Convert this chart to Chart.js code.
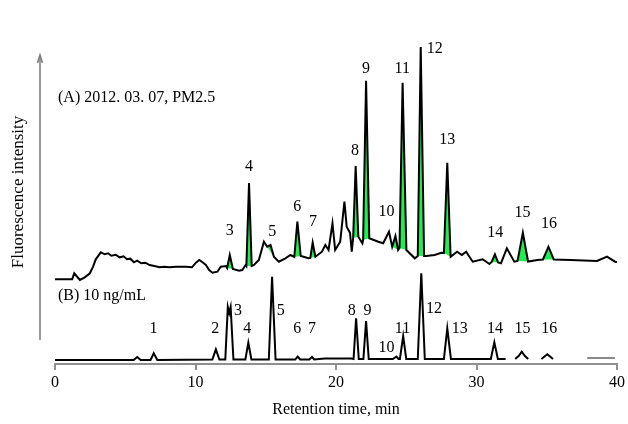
<!DOCTYPE html>
<html>
<head>
<meta charset="utf-8">
<script src="https://cdn.jsdelivr.net/npm/chart.js@4.4.0/dist/chart.umd.min.js"></script>
<style>
  html, body { margin: 0; padding: 0; background: #fff; }
  #wrap { width: 628px; height: 424px; }
</style>
</head>
<body>
<div id="wrap"><canvas id="chart" width="628" height="424"></canvas></div>
<script>
// Trace A: PM2.5 sample (retention time in min, intensity in plot units incl. offset)
const timeA = [
  0, 1.22, 1.37, 1.77, 2.12, 2.48, 2.71, 2.9, 3.26, 3.54, 3.78, 4.01, 4.32, 4.6, 4.88, 5.12,
  5.36, 5.62, 5.85, 6.14, 6.44, 6.73, 7.08, 7.43, 7.79, 8.14, 8.61, 9.32, 9.75, 10.03, 10.27,
  10.5, 10.74, 10.97, 11.21, 11.56, 11.8, 12.16, 12.25, 12.44, 12.66, 13.1, 13.33, 13.57, 13.62,
  13.81, 14.0, 14.16, 14.51, 14.87, 15.1, 15.34, 15.58, 15.93, 16.4, 16.76, 17.03, 17.25, 17.49,
  18.05, 18.17, 18.34, 18.53, 19.0, 19.24, 19.47, 19.75, 19.94, 20.3, 20.6, 20.76, 21.0, 21.12,
  21.22, 21.4, 21.59, 21.88, 21.93, 22.14, 22.37, 23.01, 23.36, 23.77, 24.0, 24.23, 24.42, 24.52,
  24.74, 25.01, 25.61, 25.82, 26.03, 26.27, 26.43, 27.02, 27.49, 27.68, 27.92, 28.16, 28.62, 28.96,
  29.26, 29.73, 30.44, 30.92, 31.08, 31.31, 31.54, 31.74, 32.16, 32.69, 32.92, 33.3, 33.67, 34.34,
  34.73, 35.12, 35.5, 36.69, 38.58, 39.29, 39.86, 40
];
const signalA = [
  84.7, 84.7, 90.7, 84, 86.7, 90.7, 97.3, 104.7, 111.7, 109.7, 110.7, 108.3, 109.3, 106.7, 107.7, 104.7,
  105.3, 101.7, 103.3, 100.7, 101.3, 99, 98, 96.7, 97.3, 96.7, 97.3, 97.3, 96.7, 101.3, 104,
  101.7, 99, 94, 91.3, 92.3, 97.3, 98, 96, 109, 95, 93.3, 94, 99, 98,
  181, 98, 99, 104, 122.3, 117.3, 119, 107.3, 102.3, 105.7, 109, 107, 142.3, 108,
  105.7, 106, 121.3, 107.3, 112.3, 119, 114, 140.7, 114, 122.3, 162.3, 137.3, 131, 112.3,
  126, 198, 127.3, 120.7, 124, 283.3, 125.7, 122.3, 120.7, 132.3, 117.3, 128, 114, 116,
  281.3, 114, 105.7, 108, 317, 108, 108, 109, 111.3, 111, 201.3, 107.3, 112.3, 109,
  112.3, 102.3, 104.7, 100, 102, 109.7, 101.5, 100.7, 115.7, 102.3, 103, 131.3, 102.5, 104,
  104.5, 117.3, 104.5, 104, 103, 107.3, 102.3, 102
];

// Trace B: 10 ng/mL standard (null = break in the trace)
const timeB = [
  0, 5.6, 5.85, 6.1, 6.8, 7.03, 7.28, 11.2, 11.45, 11.7, 12.12, 12.3, 12.4, 12.5, 12.7,
  13.55, 13.76, 13.98, 15.22, 15.45, 15.7, 17.1, 17.27, 17.45, 18.1, 18.29, 18.45, 19.2, 21.1,
  21.25, 21.43, 21.62, 21.95, 22.14, 22.33, 24.05, 24.3, 24.45, 24.55, 24.78, 25.0, 25.82, 26.07,
  26.32, 27.68, 27.92, 28.18, 31.02, 31.27, 31.52, 32.07, 32.4, 32.75, 33.0, 33.22, 33.45, 33.68,
  34.2, 34.62, 35.04, 35.45, 36.5, 37.88, 39.86
];
const signalB = [
  4, 4, 7, 4, 4, 10.7, 4, 4.5, 14.7, 4.5, 4.5, 57, 51, 57, 4.5,
  4.5, 21.3, 4.5, 4.5, 87.3, 4.5, 4.5, 7.5, 4.5, 4.5, 7, 4.5, 5.5, 5.5,
  5, 45.7, 5, 5, 43, 5, 5, 7.5, 5, 5, 28, 5, 5, 90.7,
  5, 5, 35.7, 5, 5, 21.7, 5, 5, null, 5, 8, 12.3, 8, 5,
  null, 5, 9.7, 5, null, 6, 6
];

// Integrated (green) peak windows in trace A, start/end retention times
const greenWindows = [
  [12.25, 12.66], [13.62, 14.0], [15.1, 15.58], [17.03, 17.49], [18.17, 18.53],
  [21.22, 21.59], [21.93, 22.37], [24.0, 24.42], [24.52, 25.01], [25.82, 26.27],
  [27.68, 28.16], [31.08, 31.54], [32.92, 33.67], [34.73, 35.5]
];

const xTicks = [0, 10, 20, 30, 40];

// peak number annotations: [label, time, height]
const peakLabelsA = [
  ['3', 12.44, 133], ['4', 13.81, 197], ['5', 15.46, 132], ['6', 17.25, 157],
  ['7', 18.36, 142], ['8', 21.36, 213], ['9', 22.14, 295], ['10', 23.6, 152],
  ['11', 24.71, 295], ['12', 27.02, 315], ['13', 27.92, 224], ['14', 31.34, 131],
  ['15', 33.27, 151], ['16', 35.16, 140]
];
const peakLabelsB = [
  ['1', 7.01, 35], ['2', 11.4, 35], ['3', 13.03, 53], ['4', 13.69, 35],
  ['5', 16.07, 53], ['6', 17.25, 35], ['7', 18.29, 35], ['8', 21.12, 53],
  ['9', 22.25, 53], ['10', 23.6, 16], ['11', 24.73, 35], ['12', 26.97, 55],
  ['13', 28.8, 35], ['14', 31.31, 35], ['15', 33.27, 35], ['16', 35.17, 35]
];

const serif = '"Liberation Serif", "Times New Roman", serif';
const green = 'rgb(30, 238, 80)';

const pointsA = timeA.map((t, i) => ({ x: t, y: signalA[i] }));
const pointsB = timeB.map((t, i) => ({ x: t, y: signalB[i] }));

const datasets = [
  {
    label: 'A', data: pointsA, borderColor: '#000', borderWidth: 2,
    pointRadius: 0, tension: 0, fill: false, order: 0
  },
  {
    label: 'B', data: pointsB, borderColor: '#000', borderWidth: 2,
    pointRadius: 0, tension: 0, fill: false, spanGaps: false, order: 0,
    segment: {
      borderColor: ctx => ctx.p0.parsed.x >= 37 ? '#8a8a8a' : '#000'
    }
  }
];

// each green peak: the trace inside the window, filled down to the straight base between its ends
greenWindows.forEach(([t0, t1]) => {
  const part = pointsA.filter(p => p.x >= t0 - 1e-6 && p.x <= t1 + 1e-6);
  const base = [part[0], part[part.length - 1]];
  datasets.push({
    data: part, borderWidth: 0, borderColor: 'rgba(0,0,0,0)', pointRadius: 0,
    backgroundColor: green, fill: '+1', order: 1
  });
  datasets.push({
    data: base, borderWidth: 0, borderColor: 'rgba(0,0,0,0)', pointRadius: 0,
    fill: false, order: 2
  });
});

const annotate = {
  id: 'annotate',
  afterDraw(chart) {
    const { ctx, scales: { x, y } } = chart;
    ctx.save();
    ctx.fillStyle = '#000';
    ctx.font = '16px ' + serif;
    ctx.textAlign = 'center';
    ctx.textBaseline = 'middle';
    peakLabelsA.concat(peakLabelsB).forEach(([txt, t, v]) => {
      ctx.fillText(txt, x.getPixelForValue(t), y.getPixelForValue(v));
    });

    ctx.textAlign = 'left';
    ctx.fillText('(A) 2012. 03. 07, PM2.5', 58, 98);
    ctx.fillText('(B) 10 ng/mL', 58, 296);

    // y title
    ctx.save();
    ctx.translate(19, 192);
    ctx.rotate(-Math.PI / 2);
    ctx.textAlign = 'center';
    ctx.font = '17px ' + serif;
    ctx.fillText('Fluorescence intensity', 0, 0);
    ctx.restore();

    // intensity arrow
    ctx.strokeStyle = '#7a7a7a';
    ctx.lineWidth = 1.5;
    ctx.beginPath();
    ctx.moveTo(40, 340);
    ctx.lineTo(40, 56);
    ctx.stroke();
    ctx.beginPath();
    ctx.moveTo(37.5, 63);
    ctx.lineTo(40, 55);
    ctx.lineTo(42.5, 63);
    ctx.stroke();
    ctx.restore();
  }
};

new Chart(document.getElementById('chart'), {
  type: 'line',
  data: { datasets },
  plugins: [annotate],
  options: {
    responsive: false,
    animation: false,
    layout: { padding: { left: 55, right: 8, top: 30, bottom: 0 } },
    plugins: { legend: { display: false }, tooltip: { enabled: false } },
    scales: {
      x: {
        type: 'linear', min: 0, max: 40,
        afterBuildTicks: s => { s.ticks = xTicks.map(v => ({ value: v })); },
        afterFit: s => { s.height = 60; },
        border: { display: true, color: '#8f8f8f', width: 2 },
        grid: { drawOnChartArea: false, drawTicks: true, tickLength: 6, color: '#8f8f8f', lineWidth: 2 },
        ticks: { color: '#000', padding: 3, maxRotation: 0, font: { family: serif, size: 16 } },
        title: {
          display: true, text: 'Retention time, min', color: '#000',
          padding: { top: 0, bottom: 5 }, font: { family: serif, size: 16 }
        }
      },
      y: { type: 'linear', display: false, min: 0, max: 334 }
    }
  }
});
</script>
</body>
</html>
